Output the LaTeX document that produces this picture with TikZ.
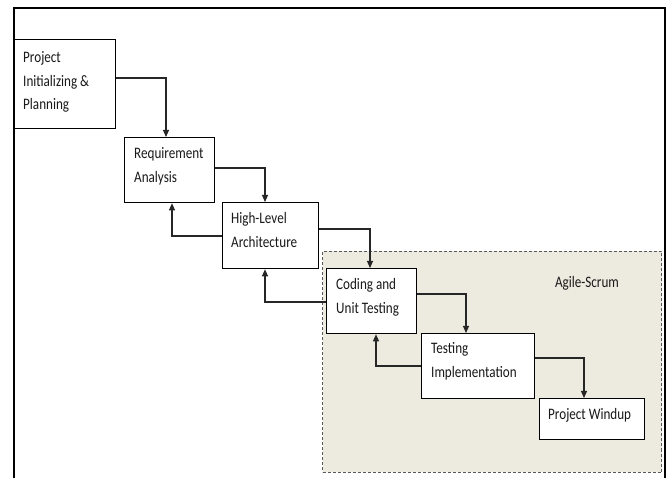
\documentclass[tikz,border=0pt]{standalone}
\usepackage{fontspec}
\setmainfont{Carlito}[FakeStretch=0.82]
\usetikzlibrary{arrows.meta,calc}
\definecolor{agilefill}{RGB}{237,234,224}
\begin{document}
\begin{tikzpicture}[x=1pt,y=-1pt,
  box/.style={draw=black, line width=1.3pt, fill=white, inner sep=0pt, anchor=north west},
  lbl/.style={anchor=base west, inner sep=0pt, align=left, text=black!90, font=\fontsize{16}{23.5}\selectfont},
  arr/.style={draw=black!85, line width=1.1pt, -{Triangle[length=7pt,width=6pt]}},
  agile/.style={draw=black!65, line width=1pt, dash pattern=on 3pt off 2pt, fill=agilefill, inner sep=0pt, anchor=north west}
  ]
\useasboundingbox (0,0) rectangle (670,478);
\fill[white] (0,0) rectangle (670,478);
% outer frame (open at the bottom)
\draw[line width=1.4pt] (14,478) -- (14,8) -- (665,8) -- (665,478);
% agile region
\node[agile, minimum width=339pt, minimum height=221pt] (ag) at (322,251) {};
\node[anchor=base, inner sep=0pt, text=black!90, font=\fontsize{16}{23.5}\selectfont] (agl) at (587,288) {Agile-Scrum};
% boxes
\node[box, minimum width=101pt, minimum height=89pt] (b1) at (14,39) {};
\node[box, minimum width=90pt, minimum height=65pt] (b2) at (124,137) {};
\node[box, minimum width=96pt, minimum height=66pt] (b3) at (222,202) {};
\node[box, minimum width=90pt, minimum height=65pt] (b4) at (326,268) {};
\node[box, minimum width=113pt, minimum height=65pt] (b5) at (421,333) {};
\node[box, minimum width=105pt, minimum height=41pt] (b6) at (539,398) {};
% labels (base anchor = baseline of the last line)
\node[lbl] (t1) at ($(b1.north west)+(9,71)$) {Project\\Initializing \&\\Planning};
\node[lbl] (t2) at ($(b2.north west)+(10,45.5)$) {Requirement\\Analysis};
\node[lbl] (t3) at ($(b3.north west)+(9,45.5)$) {High-Level\\Architecture};
\node[lbl] (t4) at ($(b4.north west)+(10,45.5)$) {Coding and\\Unit Testing};
\node[lbl] (t5) at ($(b5.north west)+(10,44.5)$) {Testing\\Implementation};
\node[lbl] (t6) at ($(b6.north west)+(9,22)$) {Project Windup};
% forward connectors
\draw[arr] (b1.east |- 0,78) -| (166,0 |- b2.north);
\draw[arr] (b2.east |- 0,168) -| (265,0 |- b3.north);
\draw[arr] (b3.east |- 0,229) -| (370,0 |- b4.north);
\draw[arr] (b4.east |- 0,294) -| (466,0 |- b5.north);
\draw[arr] (b5.east |- 0,358) -| (584,0 |- b6.north);
% feedback connectors
\draw[arr] (b3.west |- 0,236) -| (172,0 |- b2.south);
\draw[arr] (b4.west |- 0,302) -| (265,0 |- b3.south);
\draw[arr] (b5.west |- 0,366) -| (376,0 |- b4.south);
\end{tikzpicture}
\end{document}
